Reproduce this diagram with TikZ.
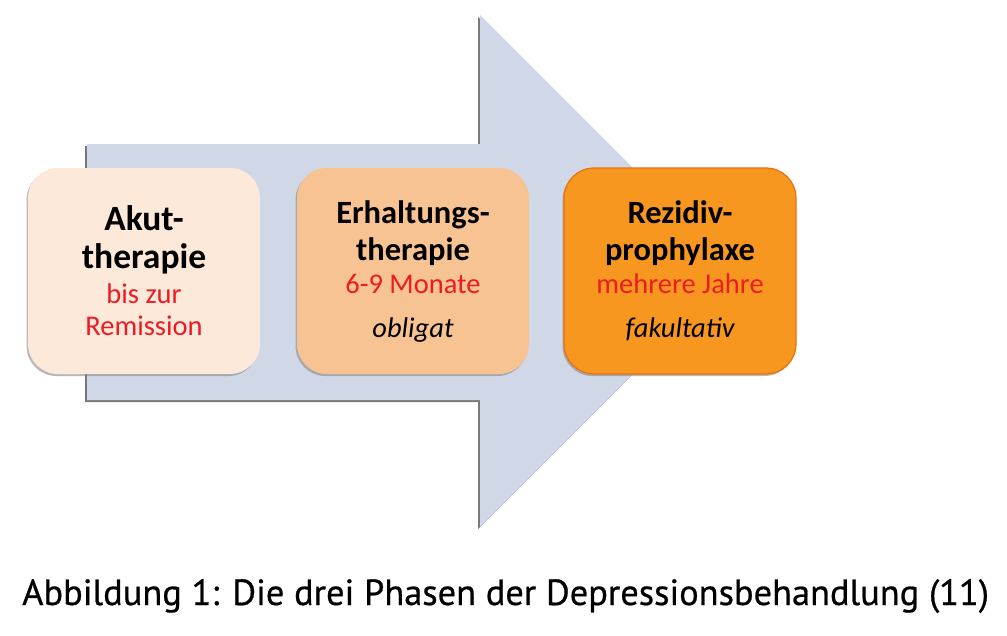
\documentclass[tikz,border=0pt]{standalone}
\usepackage{fontspec}
\setmainfont{Carlito}
\newfontfamily\capfont[FakeBold=0.6]{PT Sans}
\usetikzlibrary{shadows}
\definecolor{arrowblue}{HTML}{D0D8E8}
\definecolor{peachA}{HTML}{FCE9DA}
\definecolor{peachB}{HTML}{F8C392}
\definecolor{orangeC}{HTML}{F7971F}
\definecolor{orangeEdge}{HTML}{E8700F}
\definecolor{txtred}{HTML}{EC1C24}
\tikzset{
  phase/.style={rounded corners=30pt, minimum width=232pt, minimum height=206pt,
    inner sep=0pt, drop shadow={shadow xshift=-1.5pt, shadow yshift=-2pt, opacity=0.55}},
  bigbold/.style={anchor=base, inner sep=0pt, font=\fontsize{35.5}{40}\selectfont\bfseries},
  midbold/.style={anchor=base, inner sep=0pt, font=\fontsize{32.5}{38}\selectfont\bfseries},
  redtxt/.style={anchor=base, inner sep=0pt, text=txtred, font=\fontsize{28.5}{33}\selectfont},
  ittxt/.style={anchor=base, inner sep=0pt, font=\fontsize{28.5}{33}\selectfont\itshape},
}
\begin{document}
\begin{tikzpicture}[x=1pt,y=-1pt]
\useasboundingbox (0,0) rectangle (1007,635);
% big arrow
\fill[arrowblue, drop shadow={shadow xshift=-2pt, shadow yshift=-2pt, opacity=0.7, fill=black!75}]
  (87,144) -- (480,144) -- (480,15) -- (736,271) -- (480,527) -- (480,400) -- (87,400) -- cycle;
% boxes
\node[phase, fill=peachA] (b1) at (144,271) {};
\node[phase, fill=peachB] (b2) at (413,271) {};
\node[phase, fill=orangeC, draw=orangeEdge, line width=1.2pt] (b3) at (680,271) {};
% texts box 1
\node[bigbold] (t1a) at (144,230) {Akut-};
\node[bigbold] (t1b) at (144,268) {therapie};
\node[redtxt] (t1c) at (144,303) {bis zur};
\node[redtxt] (t1d) at (144,335) {Remission};
% texts box 2
\node[midbold] (t2a) at (413,223) {Erhaltungs-};
\node[midbold] (t2b) at (413,260) {therapie};
\node[redtxt] (t2c) at (413,293) {6-9 Monate};
\node[ittxt] (t2d) at (413,337) {obligat};
% texts box 3
\node[midbold] (t3a) at (680,223) {Rezidiv-};
\node[midbold] (t3b) at (680,260) {prophylaxe};
\node[redtxt] (t3c) at (680,293) {mehrere Jahre};
\node[ittxt] (t3d) at (680,337) {fakultativ};
% caption
\node[anchor=base west, inner sep=0pt, font=\capfont\fontsize{36.4}{40}\selectfont] (cap) at (22,605)
  {Abbildung 1: Die drei Phasen der Depressionsbehandlung (11)};
\end{tikzpicture}
\end{document}
